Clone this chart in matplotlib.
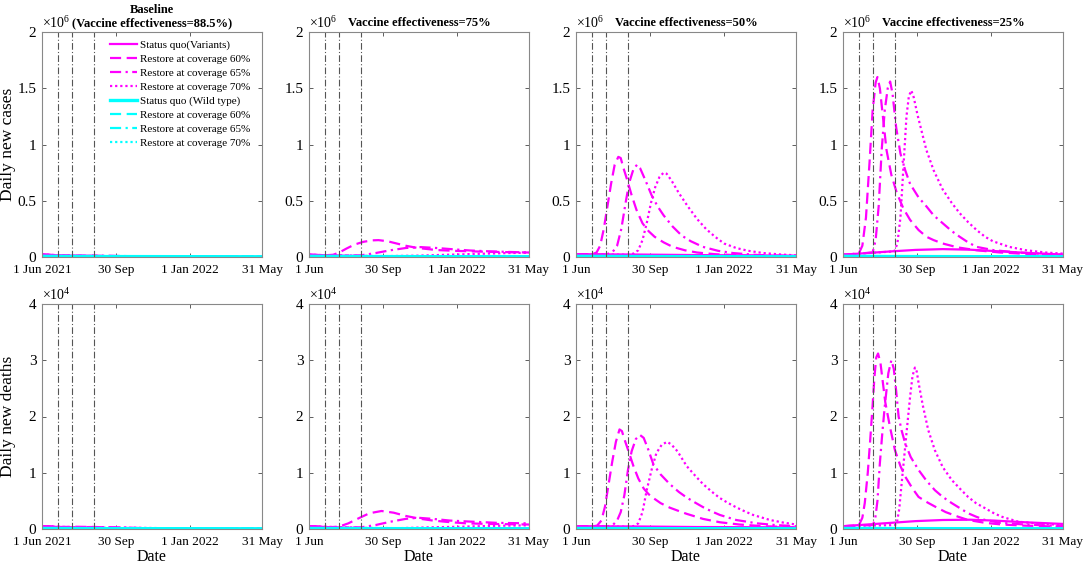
import matplotlib
matplotlib.use("Agg")
import matplotlib.pyplot as plt

plt.rcParams['font.family'] = ['Liberation Serif', 'DejaVu Serif']
plt.rcParams['mathtext.fontset'] = 'custom'
plt.rcParams['mathtext.rm'] = 'Liberation Serif'

# days since 1 Jun 2021, (day, value) pairs
restore_days = [27, 49, 86]
xtick_days = [0, 122, 245, 364]
xlabels_first = ['1 Jun 2021', '30 Sep', '1 Jan 2022', '31 May']
xlabels_other = ['1 Jun', '30 Sep', '1 Jan 2022', '31 May']
titles = ['Baseline\n(Vaccine effectiveness=88.5%)', 'Vaccine effectiveness=75%',
          'Vaccine effectiveness=50%', 'Vaccine effectiveness=25%']
legend_labels = ['Status quo(Variants)', 'Restore at coverage 60%', 'Restore at coverage 65%',
                 'Restore at coverage 70%', 'Status quo (Wild type)', 'Restore at coverage 60%',
                 'Restore at coverage 65%', 'Restore at coverage 70%']

# ---- daily new cases (x 10^6) ----
b_sq_c = [(0, .022), (30, .014), (60, .009), (100, .005), (150, .003), (250, .002), (364, .001)]
b_r60_c = [(0, .022), (27, .013), (50, .014), (80, .013), (110, .009), (150, .005), (250, .002), (364, .001)]
b_r65_c = [(0, .022), (49, .01), (80, .012), (110, .011), (150, .007), (250, .003), (364, .001)]
b_r70_c = [(0, .022), (86, .006), (120, .008), (160, .007), (250, .003), (364, .001)]

e75_sq_c = [(0, .02), (50, .012), (100, .008), (200, .005), (364, .004)]
e75_r60_c = [(0, .02), (26, .015), (40, .02), (50, .04), (62, .075), (75, .11), (90, .135), (105, .148),
             (115, .15), (130, .14), (145, .12), (160, .1), (180, .08), (211, .062), (240, .055),
             (270, .05), (310, .045), (364, .04)]
e75_r65_c = [(0, .02), (49, .012), (86, .015), (110, .035), (135, .06), (160, .08), (185, .088),
             (211, .08), (240, .068), (266, .058), (300, .05), (330, .045), (364, .04)]
e75_r70_c = [(0, .02), (86, .01), (130, .008), (180, .012), (230, .02), (280, .028), (330, .035), (364, .038)]

e50_sq_c = [(0, .025), (100, .022), (200, .017), (364, .012)]
e50_r60_c = [(0, .025), (26, .022), (34, .04), (40, .1), (46, .25), (52, .45), (58, .65), (64, .82),
             (70, .89), (74, .88), (78, .8), (85, .68), (92, .55), (100, .42), (110, .3), (120, .23),
             (130, .18), (145, .13), (160, .09), (180, .06), (200, .04), (230, .025), (270, .015),
             (320, .008), (364, .005)]
e50_r65_c = [(0, .025), (49, .022), (60, .04), (68, .1), (75, .25), (82, .48), (88, .66), (95, .78),
             (101, .82), (106, .79), (115, .68), (125, .55), (135, .45), (145, .37), (160, .27),
             (175, .19), (190, .14), (210, .09), (235, .055), (260, .035), (300, .018), (364, .008)]
e50_r70_c = [(0, .025), (85, .02), (95, .03), (103, .06), (110, .15), (117, .3), (124, .48), (131, .62),
             (138, .71), (145, .75), (150, .74), (158, .68), (170, .57), (185, .45), (200, .34),
             (215, .25), (230, .18), (245, .12), (265, .08), (285, .055), (310, .035), (340, .022),
             (364, .015)]

e25_sq_c = [(0, .02), (40, .035), (80, .05), (120, .063), (165, .07), (210, .065), (260, .05),
            (310, .035), (364, .022)]
e25_r60_c = [(0, .02), (26, .03), (32, .1), (38, .35), (44, .85), (49, 1.3), (54, 1.55), (57, 1.6),
             (61, 1.5), (66, 1.25), (72, .95), (80, .73), (89, .57), (100, .43), (111, .33), (125, .24),
             (138, .18), (150, .15), (165, .12), (190, .085), (221, .06), (260, .04), (310, .025),
             (364, .015)]
e25_r65_c = [(0, .02), (49, .04), (54, .15), (59, .45), (64, .95), (69, 1.3), (74, 1.5), (78, 1.56),
             (82, 1.45), (88, 1.15), (95, .92), (103, .77), (111, .65), (125, .53), (138, .45),
             (150, .37), (165, .3), (180, .23), (193, .18), (207, .13), (221, .09), (250, .06),
             (290, .04), (330, .028), (364, .02)]
e25_r70_c = [(0, .02), (85, .05), (90, .12), (95, .35), (100, .8), (105, 1.25), (109, 1.43), (113, 1.48),
             (117, 1.42), (123, 1.27), (130, 1.12), (138, .95), (150, .77), (165, .6), (180, .48),
             (193, .39), (207, .31), (221, .24), (235, .18), (248, .14), (275, .09), (303, .06),
             (335, .04), (364, .03)]

wild_c = [(0, .006), (100, .004), (364, .002)]

# ---- daily new deaths (x 10^4) ----
b_sq_d = [(0, .05), (30, .035), (60, .025), (100, .015), (200, .006), (364, .003)]
b_r60_d = [(0, .05), (27, .035), (55, .04), (90, .035), (130, .02), (200, .008), (364, .003)]
b_r65_d = [(0, .05), (49, .03), (80, .035), (120, .03), (170, .015), (250, .006), (364, .003)]
b_r70_d = [(0, .05), (86, .02), (130, .025), (180, .018), (250, .008), (364, .003)]

e75_sq_d = [(0, .05), (50, .025), (100, .015), (200, .01), (364, .008)]
e75_r60_d = [(0, .05), (26, .03), (49, .04), (65, .1), (84, .2), (100, .28), (120, .32), (140, .29),
             (161, .23), (185, .18), (205, .15), (235, .12), (261, .1), (300, .09), (364, .08)]
e75_r65_d = [(0, .05), (49, .025), (86, .03), (110, .07), (135, .13), (160, .18), (180, .2),
             (205, .18), (233, .15), (270, .13), (310, .11), (364, .1)]
e75_r70_d = [(0, .05), (86, .02), (150, .015), (200, .03), (250, .04), (300, .055), (364, .065)]

e50_sq_d = [(0, .05), (100, .045), (200, .035), (364, .03)]
e50_r60_d = [(0, .05), (26, .045), (35, .06), (42, .15), (48, .4), (54, .8), (60, 1.2), (66, 1.55),
             (72, 1.77), (76, 1.74), (80, 1.6), (87, 1.38), (95, 1.12), (103, .9), (112, .72),
             (120, .62), (128, .55), (140, .46), (155, .38), (170, .32), (183, .27), (210, .18),
             (238, .12), (270, .08), (310, .05), (364, .03)]
e50_r65_d = [(0, .05), (49, .045), (60, .06), (68, .15), (74, .3), (80, .6), (86, 1.05), (92, 1.38),
             (99, 1.6), (106, 1.67), (112, 1.62), (120, 1.4), (128, 1.15), (140, .97), (155, .8),
             (170, .66), (183, .56), (197, .47), (210, .39), (225, .31), (238, .25), (265, .16),
             (300, .1), (330, .07), (364, .05)]
e50_r70_d = [(0, .05), (86, .04), (95, .05), (103, .1), (110, .3), (117, .69), (125, 1.05), (133, 1.35),
             (142, 1.5), (151, 1.55), (158, 1.5), (168, 1.38), (183, 1.12), (197, .95), (210, .8),
             (225, .66), (238, .55), (252, .46), (266, .38), (280, .31), (293, .25), (321, .16),
             (345, .11), (364, .08)]

e25_sq_d = [(0, .05), (40, .08), (80, .11), (120, .14), (165, .16), (210, .165), (250, .15),
            (300, .12), (364, .09)]
e25_r60_d = [(0, .05), (26, .06), (32, .2), (36, .46), (41, 1.0), (45, 1.58), (49, 2.2), (52, 2.7),
             (55, 3.05), (58, 3.12), (62, 2.95), (66, 2.6), (70, 2.25), (78, 1.8), (86, 1.4),
             (95, 1.12), (103, .93), (115, .72), (125, .57), (140, .47), (152, .4), (170, .3),
             (190, .22), (207, .16), (235, .11), (262, .08), (300, .06), (364, .04)]
e25_r65_d = [(0, .05), (49, .07), (53, .16), (57, .5), (61, 1.17), (65, 1.7), (69, 2.17), (75, 2.77),
             (80, 3.0), (84, 2.85), (88, 2.45), (92, 2.0), (97, 1.75), (103, 1.52), (112, 1.28),
             (125, 1.05), (138, .86), (152, .69), (165, .57), (180, .46), (195, .36), (207, .28),
             (220, .22), (235, .16), (260, .11), (300, .08), (364, .05)]
e25_r70_d = [(0, .05), (86, .07), (89, .1), (93, .35), (97, .81), (101, 1.25), (105, 1.7), (111, 2.35),
             (115, 2.72), (119, 2.87), (122, 2.8), (125, 2.6), (132, 2.2), (141, 1.76), (152, 1.4),
             (165, 1.1), (180, .87), (195, .7), (207, .57), (220, .46), (235, .37), (248, .29),
             (262, .22), (290, .13), (320, .1), (364, .07)]

wild_d = [(0, .01), (100, .007), (364, .004)]

cases = [[b_sq_c, b_r60_c, b_r65_c, b_r70_c],
         [e75_sq_c, e75_r60_c, e75_r65_c, e75_r70_c],
         [e50_sq_c, e50_r60_c, e50_r65_c, e50_r70_c],
         [e25_sq_c, e25_r60_c, e25_r65_c, e25_r70_c]]
deaths = [[b_sq_d, b_r60_d, b_r65_d, b_r70_d],
          [e75_sq_d, e75_r60_d, e75_r65_d, e75_r70_d],
          [e50_sq_d, e50_r60_d, e50_r65_d, e50_r70_d],
          [e25_sq_d, e25_r60_d, e25_r65_d, e25_r70_d]]

dashes = [None, (5, 2.5), (5, 2, 1, 2), (1, 1.3)]

fig = plt.figure(figsize=(10.84, 5.65), dpi=100)
lefts = [42, 309, 576, 843]
rows = [(32, cases, 2, [0, 0.5, 1, 1.5, 2], ['0', '0.5', '1', '1.5', '2'], r'$\times10^{6}$', wild_c, 'Daily new cases'),
        (304, deaths, 4, [0, 1, 2, 3, 4], ['0', '1', '2', '3', '4'], r'$\times10^{4}$', wild_d, 'Daily new deaths')]

for r, (top, data, ymax, yt, ytl, mult, wild, ylab) in enumerate(rows):
    for p in range(4):
        ax = fig.add_axes([lefts[p] / 1084, 1 - (top + 225) / 565, 220 / 1084, 225 / 565])
        handles = []
        for k, series in enumerate(data[p]):
            x = [d for d, v in series]
            y = [v for d, v in series]
            ln, = ax.plot(x, y, color='magenta', lw=1.6)
            if dashes[k] is not None:
                ln.set_dashes(dashes[k])
            handles.append(ln)
        for k in range(4):
            ln, = ax.plot([d for d, v in wild], [v for d, v in wild], color='cyan', lw=1.6)
            if dashes[k] is not None:
                ln.set_dashes(dashes[k])
            else:
                ln.set_linewidth(2.4)
            handles.append(ln)
        for d in restore_days:
            ax.axvline(d, color='#555555', lw=0.8, dashes=(6, 2, 1, 2))
        ax.set_xlim(0, 364)
        ax.set_ylim(0, ymax)
        ax.set_xticks(xtick_days)
        ax.set_xticklabels(xlabels_first if p == 0 else xlabels_other)
        ax.set_yticks(yt)
        ax.set_yticklabels(ytl)
        ax.tick_params(direction='in', length=3, width=0.6, color='#444444',
                       top=True, right=True)
        ax.tick_params(axis='x', pad=5, labelsize=9.5)
        ax.tick_params(axis='y', pad=4, labelsize=11)
        for s in ax.spines.values():
            s.set_color('#888888')
            s.set_linewidth(0.8)
        ax.text(0.0, 1.003, mult, transform=ax.transAxes, fontsize=10, ha='left', va='bottom')
        if r == 0:
            ax.set_title(titles[p], fontsize=9, fontweight='bold', pad=4)
        else:
            ax.set_xlabel('Date', fontsize=11.5, labelpad=1)
        if p == 0:
            ax.set_ylabel(ylab, fontsize=12.5)
            ax.yaxis.set_label_coords(-0.118, 0.5)
        if r == 0 and p == 0:
            ax.legend(handles, legend_labels, loc='upper right', bbox_to_anchor=(0.97, 0.99),
                      frameon=False, fontsize=8, handlelength=2.5, handletextpad=0.2,
                      labelspacing=0.38, borderaxespad=0.1)

fig.savefig('out.png', dpi=100)
